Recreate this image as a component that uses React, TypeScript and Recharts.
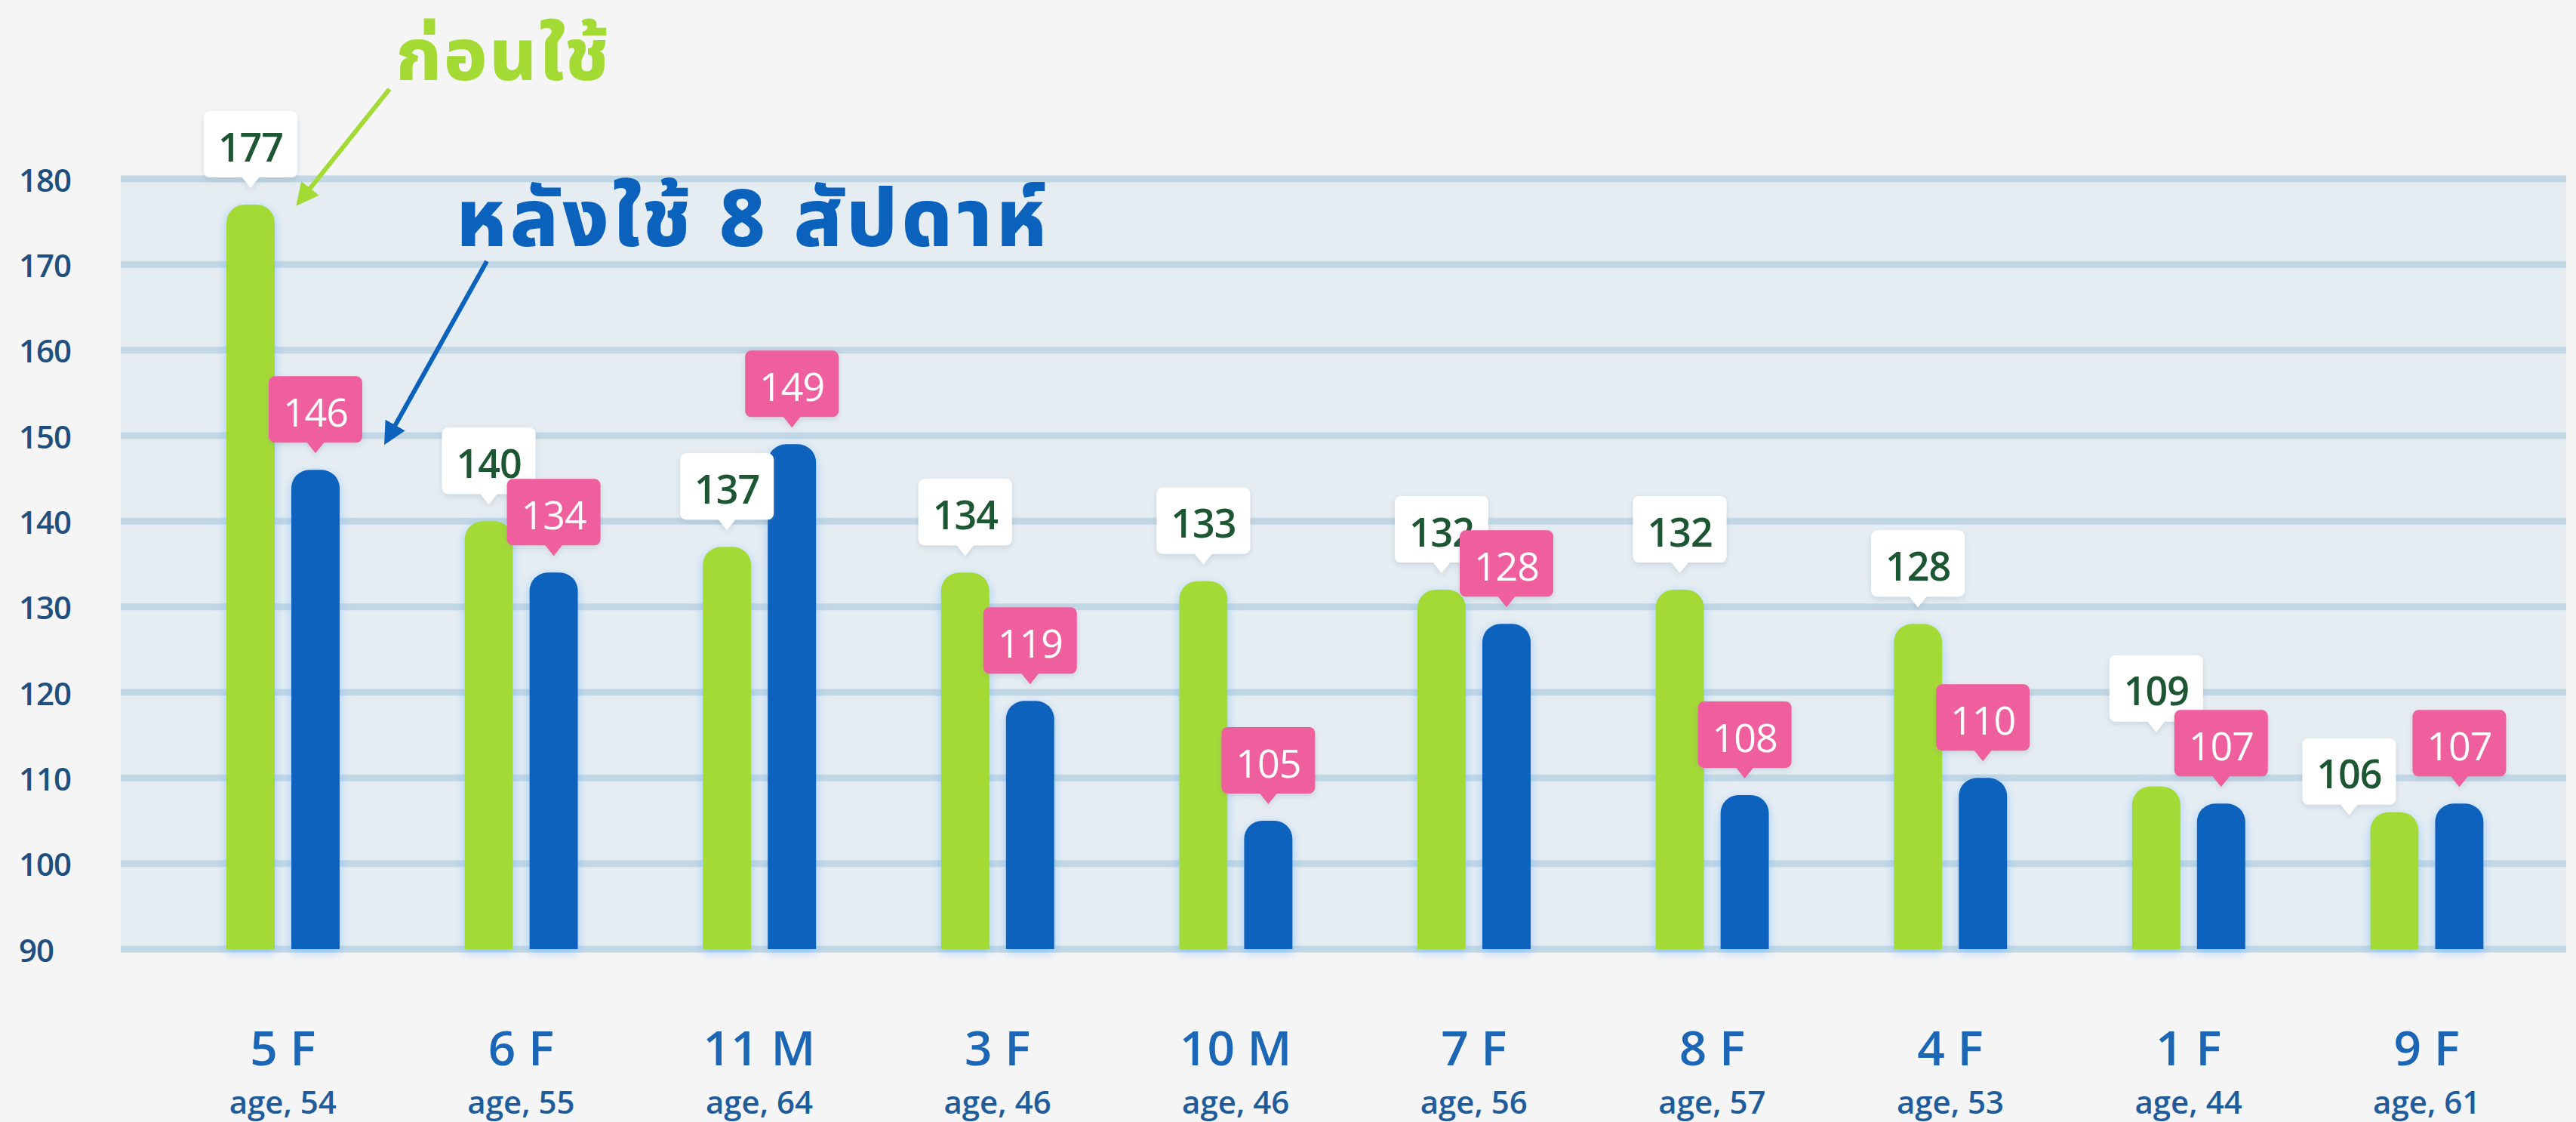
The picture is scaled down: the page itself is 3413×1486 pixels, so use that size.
import { BarChart, Bar, XAxis, YAxis, CartesianGrid, LabelList } from "recharts";

document.body.style.margin = "0";

const categories = ["5 F", "6 F", "11 M", "3 F", "10 M", "7 F", "8 F", "4 F", "1 F", "9 F"];
const ages = ["age, 54", "age, 55", "age, 64", "age, 46", "age, 46", "age, 56", "age, 57", "age, 53", "age, 44", "age, 61"];
const before = [177, 140, 137, 134, 133, 132, 132, 128, 109, 106];
const after = [146, 134, 149, 119, 105, 128, 108, 110, 107, 107];
const yTicks = [90, 100, 110, 120, 130, 140, 150, 160, 170, 180];

const data = categories.map((name, i) => ({ name, before: before[i], after: after[i] }));

const GREEN = "#a3da34";
const BLUE = "#0a62bd";
const PINK = "#ef5f9d";
const FONT = "'Open Sans', 'Noto Sans', sans-serif";
const THAI = "'Noto Sans Thai', 'Noto Sans Thai Looped', 'Loma', 'Garuda', 'Noto Sans', sans-serif";

function Badge({ cx, tipY, text, fill, color, weight }: any) {
  const w = 124;
  const h = 88;
  const p = 14;
  const top = tipY - p - h;
  return (
    <g filter="url(#badgeShadow)">
      <rect x={cx - w / 2} y={top} width={w} height={h} rx={8} fill={fill} />
      <polygon points={`${cx - 12},${top + h - 1} ${cx + 12},${top + h - 1} ${cx},${tipY}`} fill={fill} />
      <text
        x={cx}
        y={top + h / 2 + 2}
        textAnchor="middle"
        dominantBaseline="central"
        fontFamily={FONT}
        fontSize={52}
        fontWeight={weight}
        letterSpacing={-1}
        fill={color}
      >
        {text}
      </text>
    </g>
  );
}

const greenLabel = (props: any) => {
  const { x, y, width, value, index } = props;
  let cx = x + width / 2;
  let tipY = y - 22;
  const d = after[index] - before[index];
  // nudge badges that would collide with the neighbour's badge
  if (d > 0 && d <= 3) {
    cx -= 60;
    tipY += 26;
  } else if (d < 0 && d >= -3) {
    tipY -= 50;
  }
  return <Badge cx={cx} tipY={tipY} text={value} fill="#ffffff" color="#1c5631" weight={600} />;
};

const blueLabel = (props: any) => {
  const { x, y, width, value } = props;
  return <Badge cx={x + width / 2} tipY={y - 22} text={value} fill={PINK} color="#ffffff" weight={500} />;
};

const YTick = ({ y, payload }: any) => (
  <text x={25} y={y} dominantBaseline="central" fontFamily={FONT} fontSize={42} fontWeight={600} letterSpacing={-1} fill="#1e4f7e">
    {payload.value}
  </text>
);

const XTick = ({ x, y, payload, index }: any) => (
  <g>
    <text x={x} y={y + 154} textAnchor="middle" fontFamily={FONT} fontSize={64} fontWeight={600} fill="#1b67b5">
      {payload.value}
    </text>
    <text x={x} y={y + 218} textAnchor="middle" fontFamily={FONT} fontSize={42} fontWeight={600} fill="#1f5c9c">
      {ages[index]}
    </text>
  </g>
);

export default function App() {
  return (
    <div style={{ position: "relative", width: 3413, height: 1486, background: "#f5f5f5" }}>
      <BarChart
        width={3413}
        height={1486}
        data={data}
        margin={{ top: 237, right: 13, left: 0, bottom: 0 }}
        barSize={64}
        barGap={22}
      >
        <defs>
          <filter id="barGlow" x="-50%" y="-10%" width="200%" height="120%">
            <feDropShadow dx={0} dy={4} stdDeviation={7} floodColor="#5fb0ff" floodOpacity={0.55} />
          </filter>
          <filter id="badgeShadow" x="-20%" y="-20%" width="140%" height="150%">
            <feDropShadow dx={0} dy={3} stdDeviation={4} floodColor="#6d8aa0" floodOpacity={0.25} />
          </filter>
        </defs>
        <CartesianGrid vertical={false} stroke="#c2d7e4" strokeWidth={9} fill="#e6edf2" />
        <XAxis
          dataKey="name"
          axisLine={false}
          tickLine={false}
          tickSize={0}
          tickMargin={0}
          interval={0}
          height={229}
          padding={{ left: 57, right: 27 }}
          tick={XTick}
        />
        <YAxis
          domain={[90, 180]}
          ticks={yTicks}
          axisLine={false}
          tickLine={false}
          width={160}
          tick={YTick}
        />
        <Bar dataKey="before" fill={GREEN} radius={[24, 24, 0, 0]} isAnimationActive={false} filter="url(#barGlow)">
          <LabelList dataKey="before" content={greenLabel} />
        </Bar>
        <Bar dataKey="after" fill={BLUE} radius={[24, 24, 0, 0]} isAnimationActive={false} filter="url(#barGlow)">
          <LabelList dataKey="after" content={blueLabel} />
        </Bar>
      </BarChart>
      <svg width={3413} height={1486} style={{ position: "absolute", left: 0, top: 0, pointerEvents: "none" }}>
        <defs>
          <marker id="headGreen" viewBox="0 0 10 10" refX={8} refY={5} markerWidth={5} markerHeight={5} orient="auto">
            <path d="M0,0 L10,5 L0,10 z" fill={GREEN} />
          </marker>
          <marker id="headBlue" viewBox="0 0 10 10" refX={8} refY={5} markerWidth={5} markerHeight={5} orient="auto">
            <path d="M0,0 L10,5 L0,10 z" fill={BLUE} />
          </marker>
        </defs>
        <text x={524} y={106} fontFamily={THAI} fontSize={96} fontWeight={800} letterSpacing={3} fill={GREEN}>
          ก่อนใช้
        </text>
        <text x={604} y={326} fontFamily={THAI} fontSize={106} fontWeight={800} letterSpacing={5} fill={BLUE}>
          หลังใช้ 8 สัปดาห์
        </text>
        <line x1={516} y1={118} x2={396} y2={268} stroke={GREEN} strokeWidth={6} markerEnd="url(#headGreen)" />
        <line x1={645} y1={346} x2={512} y2={584} stroke={BLUE} strokeWidth={6} markerEnd="url(#headBlue)" />
      </svg>
    </div>
  );
}
